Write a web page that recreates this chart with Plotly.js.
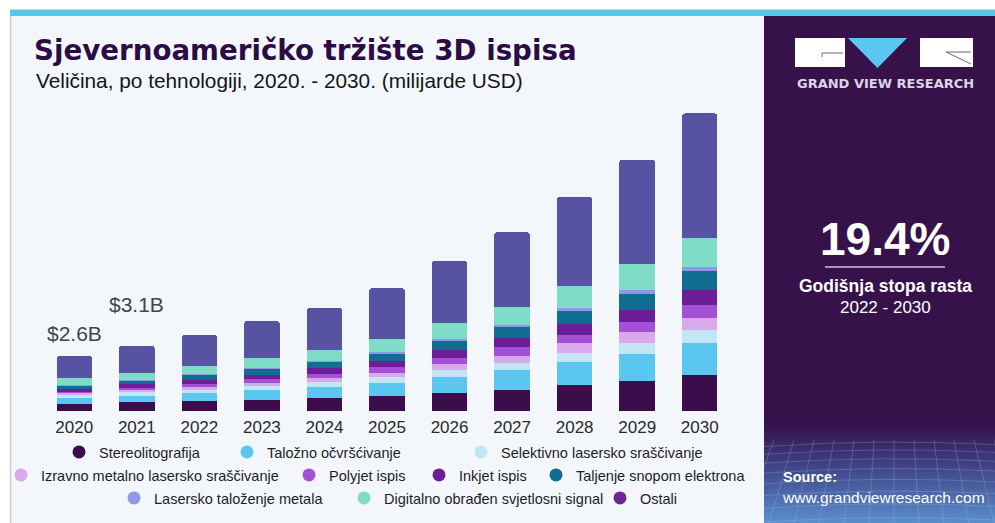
<!DOCTYPE html>
<html><head><meta charset="utf-8">
<script src="https://cdn.plot.ly/plotly-3.0.1.min.js"></script>
<style>html,body{margin:0;padding:0;background:#fff;}#chart{width:995px;height:523px;}</style>
</head><body><div id="chart"></div>
<script>
// ---- data (billion USD) ----
const years = ['2020','2021','2022','2023','2024','2025','2026','2027','2028','2029','2030'];
const seriesNames = ['Stereolitografija','Taložno očvršćivanje','Selektivno lasersko sraščivanje','Izravno metalno lasersko sraščivanje','Polyjet ispis','Inkjet ispis','Taljenje snopom elektrona','Lasersko taloženje metala','Digitalno obrađen svjetlosni signal','Ostali'];
const stereolitografija = [0.33,0.41,0.47,0.52,0.63,0.71,0.87,1.01,1.22,1.42,1.72];
const talozno = [0.30,0.31,0.36,0.47,0.51,0.62,0.74,0.91,1.09,1.30,1.49];
const selektivno = [0.13,0.18,0.16,0.20,0.22,0.26,0.32,0.36,0.44,0.50,0.62];
const izravno = [0.08,0.11,0.14,0.16,0.19,0.22,0.28,0.35,0.45,0.52,0.59];
const polyjet = [0.08,0.09,0.14,0.19,0.20,0.26,0.32,0.39,0.39,0.47,0.59];
const inkjet = [0.13,0.16,0.19,0.19,0.27,0.30,0.38,0.43,0.52,0.60,0.71];
const taljenje = [0.14,0.17,0.24,0.25,0.28,0.33,0.41,0.52,0.63,0.74,0.90];
const laserskoTalozenje = [0.05,0.05,0.05,0.06,0.06,0.11,0.11,0.11,0.16,0.19,0.19];
const digitalno = [0.32,0.33,0.38,0.45,0.52,0.59,0.74,0.87,1.01,1.23,1.41];
const ostali = [1.04,1.29,1.47,1.77,2.00,2.42,2.94,3.52,4.23,4.94,5.88];
const valueLabels = {'2020':'$2.6B','2021':'$3.1B'};
const cagrText = '19.4%';

const seriesValues = [stereolitografija,talozno,selektivno,izravno,polyjet,inkjet,taljenje,laserskoTalozenje,digitalno,ostali];
const barColors = ['#3b0d4a','#5bc6f0','#c3e6f7','#d9a9ec','#a450d6','#6c1d98','#0f6e92','#8d98e6','#7edcc6','#5654a2'];
const legendColors = ['#3b0d4a','#5bc6f0','#c3e6f7','#d9a9ec','#a450d6','#6c1d98','#0f6e92','#8d98e6','#7edcc6','#6e2396'];

// ---- geometry helpers ----
const W=995,H=523,L=43,R=264,T=94,B=112;
const PW=W-L-R, PH=H-T-B;
const px = v => (v-L)/PW;
const py = v => (H-B-v)/PH;
const FONT = 'Liberation Sans, Arial, sans-serif';

const traces = [];
seriesValues.forEach((vals,i)=>{
  traces.push({type:'bar', x:years, y:vals, name:seriesNames[i], marker:{color:barColors[i], line:{width:0}}, showlegend:false, hoverinfo:'skip'});
});
// legend entries (circle markers), one legend per entry: [text start x, row y]
const legendPos = [[97,452],[265,452],[499,452],[39,475],[327,475],[457,475],[574,475],[152,498],[382,498],[638,498]];
const layoutLegends = {};
seriesNames.forEach((n,i)=>{
  const key = i===0 ? 'legend' : 'legend'+(i+1);
  traces.push({type:'scatter', mode:'markers', x:[years[0]], y:[null], name:n, legend:key,
    marker:{color:legendColors[i], size:13, symbol:'circle'}, showlegend:true, hoverinfo:'skip'});
  layoutLegends[key] = {xref:'container', yref:'container', x:(legendPos[i][0]-38)/W, y:1-legendPos[i][1]/H, xanchor:'left', yanchor:'middle',
    orientation:'h', bgcolor:'rgba(0,0,0,0)', borderwidth:0, font:{family:FONT,size:14.5,color:'#1e1e1e'}, itemclick:false, itemdoubleclick:false};
});

const totals = years.map((y,j)=>seriesValues.reduce((s,a)=>s+a[j],0));

// bottom gradient of right panel
const svg = `<svg xmlns="http://www.w3.org/2000/svg" width="231" height="100" viewBox="0 0 231 100">
<defs><linearGradient id="g" x1="0" y1="0" x2="0" y2="1">
<stop offset="0" stop-color="#37114a"/><stop offset="0.35" stop-color="#3d3a7c"/><stop offset="1" stop-color="#5a8fcf"/></linearGradient></defs>
<rect width="231" height="100" fill="url(#g)"/>
<g stroke="#9fc0ea" stroke-opacity="0.35" stroke-width="0.8" fill="none">
<path d="M0 22 Q115 14 231 20"/><path d="M0 30 Q115 22 231 28"/><path d="M0 39 Q115 31 231 37"/><path d="M0 49 Q115 41 231 47"/><path d="M0 60 Q115 52 231 58"/><path d="M0 72 Q115 64 231 70"/><path d="M0 85 Q115 77 231 83"/><path d="M0 99 Q115 91 231 97"/>
<path d="M10 15 L-20 100"/><path d="M30 15 L5 100"/><path d="M50 15 L30 100"/><path d="M70 15 L55 100"/><path d="M90 15 L80 100"/><path d="M110 15 L105 100"/><path d="M130 15 L130 100"/><path d="M150 15 L155 100"/><path d="M170 15 L180 100"/><path d="M190 15 L205 100"/><path d="M210 15 L230 100"/><path d="M230 15 L255 100"/>
</g></svg>`;
const svgUri = 'data:image/svg+xml;charset=utf-8,'+encodeURIComponent(svg);

const shapes = [
  {type:'rect', xref:'paper', yref:'paper', x0:px(10), x1:px(764), y0:py(523), y1:py(16), fillcolor:'#f3f7fb', line:{width:0}, layer:'below'},
  {type:'line', xref:'paper', yref:'paper', x0:px(10.5), x1:px(10.5), y0:py(523), y1:py(16), line:{color:'#c9cdd2', width:1.5}, layer:'below'},
  {type:'rect', xref:'paper', yref:'paper', x0:px(764), x1:px(995), y0:py(523), y1:py(16), fillcolor:'#37114a', line:{width:0}, layer:'below'},
  {type:'rect', xref:'paper', yref:'paper', x0:px(10), x1:px(995), y0:py(16), y1:py(9.5), fillcolor:'#5cc5ea', line:{width:0}, layer:'below'},
  {type:'rect', xref:'paper', yref:'paper', x0:px(795), x1:px(845), y0:py(67), y1:py(38), fillcolor:'#ffffff', line:{width:0}},
  {type:'line', xref:'paper', yref:'paper', x0:px(822), x1:px(843), y0:py(53), y1:py(53), line:{color:'#6a6a6a', width:1}},
  {type:'line', xref:'paper', yref:'paper', x0:px(822), x1:px(822), y0:py(53), y1:py(57), line:{color:'#6a6a6a', width:1}},
  {type:'path', xref:'paper', yref:'paper', path:`M ${px(848)} ${py(38)} L ${px(907)} ${py(38)} L ${px(877.5)} ${py(68)} Z`, fillcolor:'#5bc6f0', line:{width:0}},
  {type:'rect', xref:'paper', yref:'paper', x0:px(920), x1:px(973), y0:py(67), y1:py(38), fillcolor:'#ffffff', line:{width:0}},
  {type:'line', xref:'paper', yref:'paper', x0:px(946), x1:px(971), y0:py(52), y1:py(64), line:{color:'#6a6a6a', width:1}},
  {type:'line', xref:'paper', yref:'paper', x0:px(946), x1:px(971), y0:py(52), y1:py(52), line:{color:'#6a6a6a', width:1}},
  {type:'line', xref:'paper', yref:'paper', x0:px(825), x1:px(945), y0:py(267), y1:py(267), line:{color:'#cdbfe0', width:1.5}}
];

const annotations = [
  {text:'Veličina, po tehnologiji, 2020. - 2030. (milijarde USD)', xref:'paper', yref:'paper', x:px(34), y:py(80), xanchor:'left', yanchor:'middle', showarrow:false, font:{family:FONT,size:20.8,color:'#151515'}},
  {text:'GRAND VIEW RESEARCH', xref:'paper', yref:'paper', x:px(885), y:py(84), xanchor:'center', yanchor:'middle', showarrow:false, font:{family:'DejaVu Sans, sans-serif',size:13,weight:700,color:'#d9d6e3'}},
  {text:cagrText, xref:'paper', yref:'paper', x:px(885), y:py(239), xanchor:'center', yanchor:'middle', showarrow:false, font:{family:FONT,size:46,weight:700,color:'#ffffff'}},
  {text:'Godišnja stopa rasta', xref:'paper', yref:'paper', x:px(885), y:py(286), xanchor:'center', yanchor:'middle', showarrow:false, font:{family:FONT,size:17.5,weight:700,color:'#ffffff'}},
  {text:'2022 - 2030', xref:'paper', yref:'paper', x:px(885), y:py(307), xanchor:'center', yanchor:'middle', showarrow:false, font:{family:FONT,size:17,color:'#ffffff'}},
  {text:'Source:', xref:'paper', yref:'paper', x:px(781), y:py(477), xanchor:'left', yanchor:'middle', showarrow:false, font:{family:FONT,size:14.5,weight:700,color:'#ffffff'}},
  {text:'www.grandviewresearch.com', xref:'paper', yref:'paper', x:px(780), y:py(497), xanchor:'left', yanchor:'middle', showarrow:false, font:{family:FONT,size:15.5,color:'#ffffff'}}
];
Object.keys(valueLabels).forEach(yr=>{
  const j = years.indexOf(yr);
  annotations.push({text:valueLabels[yr], x:j, y:totals[j], xref:'x', yref:'y', xanchor:'center', yanchor:'bottom', yshift: j===0?9:28, showarrow:false, font:{family:FONT,size:21,color:'#444444'}});
});

const layout = Object.assign({
  width:W, height:H,
  margin:{l:L, r:R, t:T, b:B, pad:0, autoexpand:false},
  paper_bgcolor:'#ffffff', plot_bgcolor:'rgba(0,0,0,0)',
  barmode:'stack', bargap:0.432, barcornerradius:3,
  title:{text:'Sjevernoameričko tržište 3D ispisa', x:34/W, xanchor:'left', xref:'container', y:1-50/H, yanchor:'middle', yref:'container', automargin:false, font:{family:'DejaVu Sans, sans-serif', size:27.7, weight:700, color:'#2c0c45'}},
  xaxis:{type:'category', categoryorder:'array', categoryarray:years, range:[-0.5,10.5], automargin:false, showgrid:false, zeroline:false, showline:false, ticks:'', ticklabelstandoff:4, tickfont:{family:FONT,size:17,color:'#2a2a2a'}, fixedrange:true},
  yaxis:{range:[0, PH/21.1], visible:false, automargin:false, showgrid:false, zeroline:false, fixedrange:true},
  shapes:shapes, annotations:annotations,
  images:[{source:svgUri, xref:'paper', yref:'paper', x:px(764), y:py(425), sizex:(995-764)/PW, sizey:(523-425)/PH, xanchor:'left', yanchor:'top', sizing:'stretch', layer:'above'}],
  hovermode:false, showlegend:true
}, layoutLegends);

Plotly.newPlot('chart', traces, layout, {displayModeBar:false, staticPlot:true});
</script></body></html>
